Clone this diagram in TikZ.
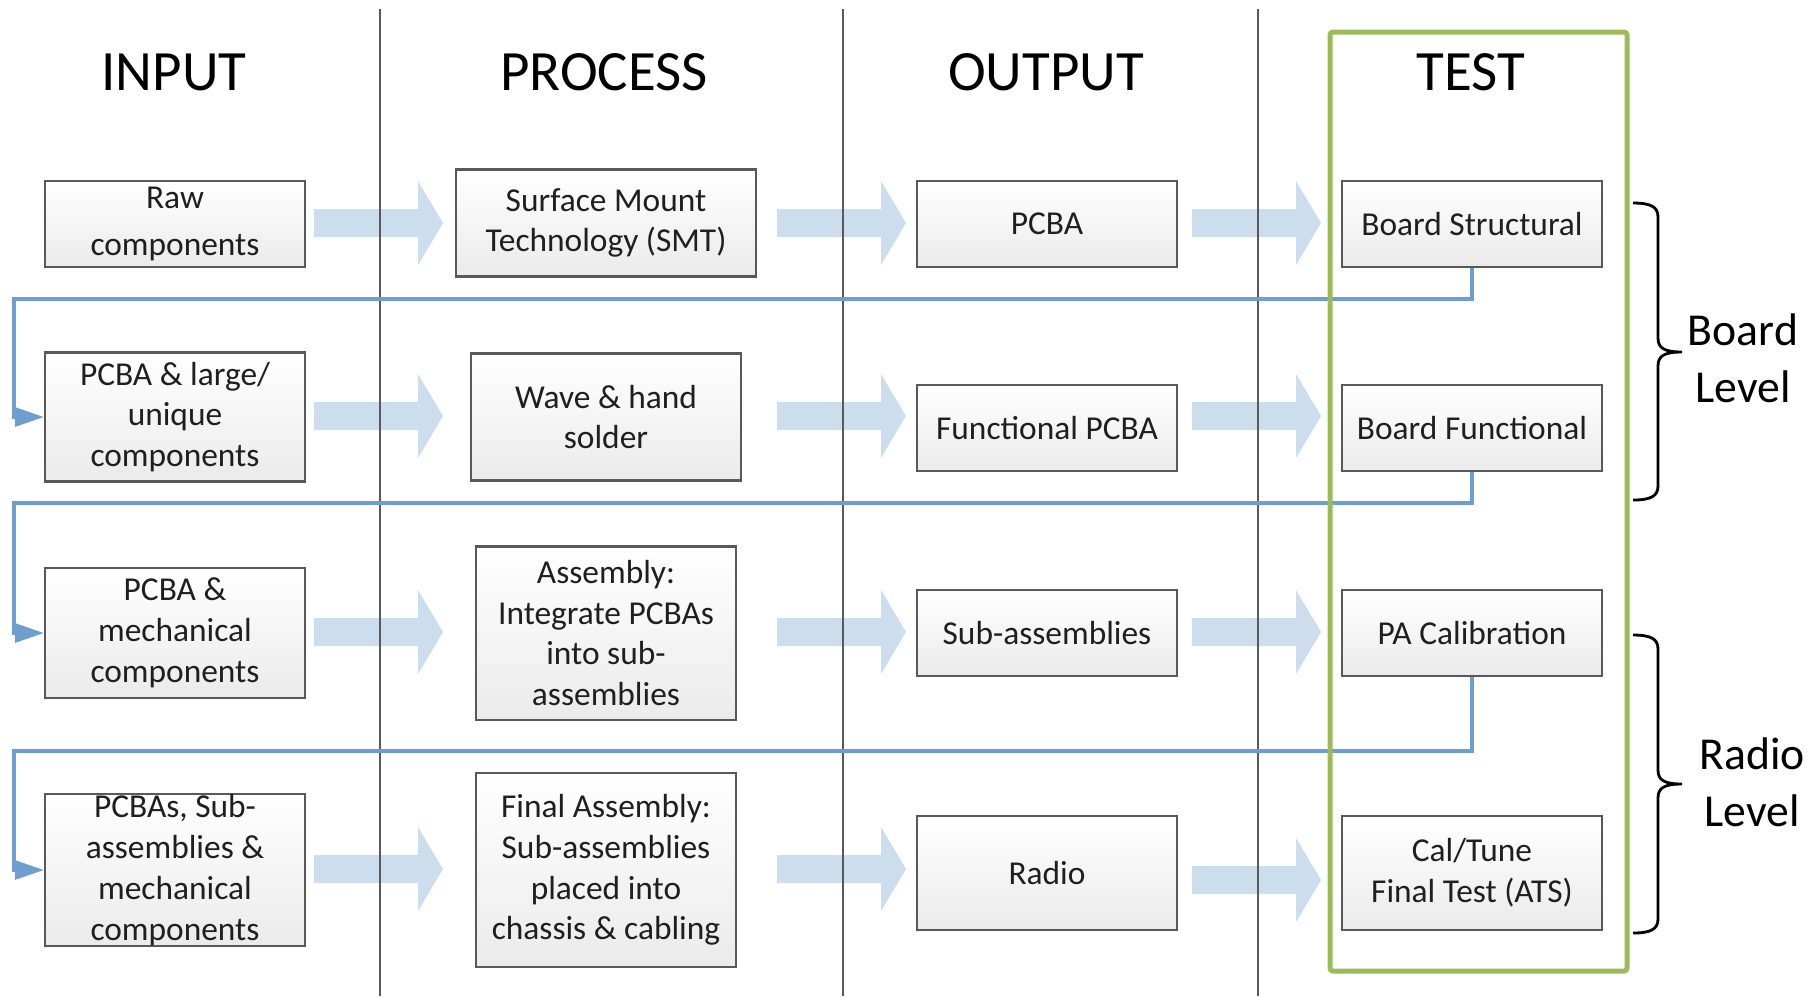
\documentclass[tikz,border=0pt]{standalone}
\usepackage{fontspec}
\setmainfont{Carlito}
\usetikzlibrary{arrows.meta}
\definecolor{flowblue}{RGB}{204,221,237}
\definecolor{loopblue}{RGB}{110,158,207}
\definecolor{testgreen}{RGB}{155,187,89}
\tikzset{
	stepbox/.style={draw=black!65, line width=0.6pt, top color=white, bottom color=black!8, align=center, inner sep=0pt, text=black!88, font=\fontsize{9.5}{11.6}\selectfont},
	colhead/.style={font=\fontsize{16.2}{19}\selectfont},
	feedback/.style={loopblue, line width=0.9pt, -{Triangle[length=0.29cm,width=0.19cm]}},
	divider/.style={black!65, line width=0.6pt},
	levellabel/.style={align=center, font=\fontsize{13}{16.2}\selectfont}
}
\def\flowarrow(#1){\fill[flowblue] (#1) ++(0,-14) -- ++(104,0) -- ++(0,-28) -- ++(25,42) -- ++(-25,42) -- ++(0,-28) -- ++(-104,0) -- cycle;}
\def\sidebrace(#1,#2,#3,#4){\draw[line width=0.8pt] (#1,#2) .. controls (#1+18,#2) and (#1+25,#2+4) .. (#1+25,#2+14) -- (#1+25,#3-14) .. controls (#1+25,#3-4) and (#1+31,#3) .. (#1+49,#3) .. controls (#1+31,#3) and (#1+25,#3+4) .. (#1+25,#3+14) -- (#1+25,#4-14) .. controls (#1+25,#4-4) and (#1+18,#4) .. (#1,#4);}

\begin{document}
\begin{tikzpicture}[x=0.01cm, y=-0.01cm]
			%%%%% START %%%%%
			\useasboundingbox (0,0) rectangle (1818,996);
			
			\node[colhead] (hin) at (174,72) {INPUT};
			\node[colhead] (hproc) at (604,72) {PROCESS};
			\node[colhead] (hout) at (1046,72) {OUTPUT};
			\node[colhead] (htest) at (1471,72) {TEST};
			
			\flowarrow(314,223);
			\flowarrow(777,223);
			\flowarrow(1192,223);
			\flowarrow(314,416);
			\flowarrow(777,416);
			\flowarrow(1192,416);
			\flowarrow(314,632);
			\flowarrow(777,632);
			\flowarrow(1192,632);
			\flowarrow(314,869);
			\flowarrow(777,869);
			\flowarrow(1192,880);
			
			\draw[divider] (380,9) -- (380,996);
			\draw[divider] (843,9) -- (843,996);
			\draw[divider] (1258,9) -- (1258,996);
			
			\node[stepbox, minimum width=2.6cm, minimum height=0.86cm] (in1) at (175,224) {Raw\\[0.06cm]components};
			\node[stepbox, minimum width=2.6cm, minimum height=1.29cm] (in2) at (175,417) {PCBA \& large/\\unique\\components};
			\node[stepbox, minimum width=2.6cm, minimum height=1.3cm] (in3) at (175,633) {PCBA \&\\mechanical\\components};
			\node[stepbox, minimum width=2.6cm, minimum height=1.52cm] (in4) at (175,870) {PCBAs, Sub-\\assemblies \&\\mechanical\\components};
			
			\node[stepbox, minimum width=3cm, minimum height=1.07cm] (proc1) at (606,223) {Surface Mount\\Technology (SMT)};
			\node[stepbox, minimum width=2.69cm, minimum height=1.27cm] (proc2) at (606,417) {Wave \& hand\\solder};
			\node[stepbox, minimum width=2.6cm, minimum height=1.73cm] (proc3) at (606,633) {Assembly:\\Integrate PCBAs\\into sub-\\assemblies};
			\node[stepbox, minimum width=2.6cm, minimum height=1.94cm] (proc4) at (606,870) {Final Assembly:\\Sub-assemblies\\placed into\\chassis \& cabling};
			
			\node[stepbox, minimum width=2.59cm, minimum height=0.86cm] (out1) at (1047,224) {PCBA};
			\node[stepbox, minimum width=2.59cm, minimum height=0.86cm] (out2) at (1047,428) {Functional PCBA};
			\node[stepbox, minimum width=2.59cm, minimum height=0.86cm] (out3) at (1047,633) {Sub-assemblies};
			\node[stepbox, minimum width=2.59cm, minimum height=1.14cm] (out4) at (1047,873) {Radio};
			
			\node[stepbox, minimum width=2.59cm, minimum height=0.86cm] (test1) at (1472,224) {Board Structural};
			\node[stepbox, minimum width=2.59cm, minimum height=0.86cm] (test2) at (1472,428) {Board Functional};
			\node[stepbox, minimum width=2.59cm, minimum height=0.86cm] (test3) at (1472,633) {PA Calibration};
			\node[stepbox, minimum width=2.59cm, minimum height=1.14cm] (test4) at (1472,873) {Cal/Tune\\Final Test (ATS)};
			
			\draw[feedback] (test1.south) |- (14,299) |- (in2.west);
			\draw[feedback] (test2.south) |- (14,503) |- (in3.west);
			\draw[feedback] (test3.south) |- (14,751) |- (in4.west);
			
			\draw[testgreen, line width=0.05cm, rounded corners=0.03cm] (1330,32) rectangle (1627,971);
			
			\sidebrace(1633,203,352,500);
			\node[levellabel] (boardlvl) at (1743,358) {Board\\Level};
			\sidebrace(1633,635,784,933);
			\node[levellabel] (radiolvl) at (1752,782) {Radio\\Level};
			
			%%%%% END %%%%%
		\end{tikzpicture}
\end{document}
